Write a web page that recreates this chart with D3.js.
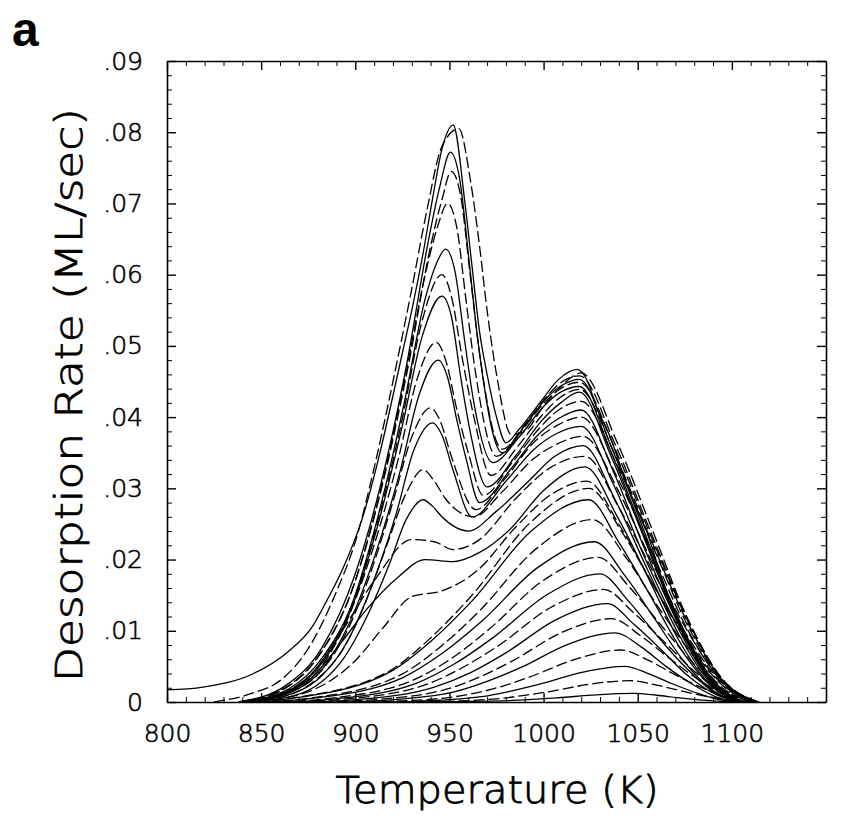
<!DOCTYPE html>
<html>
<head>
<meta charset="utf-8">
<script src="https://cdn.jsdelivr.net/npm/d3@7"></script>
<style>
  html, body { margin: 0; padding: 0; background: #fff; }
  svg { display: block; }
  .axis text { font-family: "DejaVu Sans", sans-serif; font-weight: 200; font-size: 25px; fill: #000; stroke: #000; stroke-width: 0.6px; }
  .axis path, .axis line { stroke: #000; }
  .title { font-family: "DejaVu Sans", sans-serif; font-weight: 200; fill: #000; stroke: #000; stroke-width: 0.8px; }
</style>
</head>
<body>
<script>
// ---------- data ----------
const xTickValues = [800, 850, 900, 950, 1000, 1050, 1100];
const xTickLabels = ["800", "850", "900", "950", "1000", "1050", "1100"];
const yTickValues = [0, 0.01, 0.02, 0.03, 0.04, 0.05, 0.06, 0.07, 0.08, 0.09];
const yTickLabels = ["0", ".01", ".02", ".03", ".04", ".05", ".06", ".07", ".08", ".09"];
const xLabel = "Temperature (K)";
const yLabel = "Desorption Rate (ML/sec)";
const panelLabel = "a";

// solid curves: [temperature K, rate ML/s]
const solidCurves = [
  [[925,0],[948,.00004],[980,.00018],[994,.00036],[1008,.0006],[1028,.001],[1048,.0012],[1060,.00095],[1071,.00062],[1083,.00031],[1094,.00008],[1106,0]],
  [[905,0],[931,.0001],[967,.00075],[982,.0015],[998,.0025],[1021,.0042],[1043,.005],[1056,.00395],[1068,.0026],[1081,.0013],[1093,.00035],[1106,0]],
  [[890,0],[913,.0002],[953,.00146],[970,.0029],[988,.00485],[1013,.0081],[1038,.0097],[1052,.0077],[1065,.005],[1079,.0025],[1092,.00068],[1106,0]],
  [[875,0],[899,.0003],[942,.0021],[961,.0041],[980,.0069],[1007,.0116],[1034,.0138],[1048,.0109],[1063,.0072],[1077,.0036],[1092,.001],[1106,0]],
  [[865,0],[888,.0004],[933,.0027],[953,.0054],[973,.009],[1002,.0151],[1030,.018],[1045,.0142],[1060,.0094],[1076,.0047],[1091,.0013],[1106,0]],
  [[855,0],[877,.0005],[925,.0034],[946,.0068],[967,.0113],[997,.0189],[1027,.0225],[1043,.0178],[1059,.0117],[1074,.0059],[1090,.0016],[1106,0]],
  [[850,0],[869,.0006],[919,.0043],[940,.0085],[962,.0142],[993,.0239],[1024,.0284],[1040,.0224],[1057,.0148],[1073,.0074],[1090,.002],[1106,0]],
  [[845,0],[875,.003],[893,.0085],[906,.013],[923,.0176],[937,.02],[952,.0197],[966,.021],[982,.0242],[1000,.0297],[1022,.033],[1039,.0261],[1056,.0172],[1072,.0086],[1089,.0023],[1106,0]],
  [[843,0],[867,.00085],[882,.0028],[894,.0062],[906,.0119],[918,.0193],[927,.0256],[936,.0284],[941,.0275],[946,.026],[960,.024],[975,.0268],[992,.031],[1006,.0345],[1021,.036],[1038,.0284],[1055,.0187],[1072,.0094],[1089,.0025],[1106,0]],
  [[842,0],[867,.0012],[883,.0039],[896,.0086],[909,.0165],[922,.0267],[931,.0353],[941,.0392],[946,.0375],[952,.0325],[962,.026],[980,.031],[995,.0355],[1007,.0377],[1020,.0387],[1037,.0306],[1054,.0201],[1072,.0101],[1089,.0027],[1106,0]],
  [[841,0],[866,.0014],[883,.0048],[896,.0106],[910,.0202],[924,.0326],[934,.0432],[944,.048],[949,.0456],[954,.0395],[959,.034],[966,.028],[982,.0325],[997,.0375],[1008,.0398],[1020,.041],[1037,.0324],[1054,.0213],[1072,.0107],[1089,.0029],[1106,0]],
  [[840,0],[866,.0017],[883,.0057],[897,.0125],[911,.0239],[925,.0388],[935.5,.0513],[946,.057],[951,.0542],[956,.0456],[961,.038],[970,.0302],[985,.0345],[999,.0395],[1009,.042],[1019,.0435],[1036,.0344],[1054,.0226],[1071,.0113],[1089,.003],[1106,0]],
  [[839,0],[865,.0019],[883,.0064],[898,.0136],[912,.026],[926,.042],[937,.0565],[943,.0615],[948,.0636],[953,.0604],[958,.0509],[963,.042],[973,.0336],[987,.0372],[1000,.0415],[1009,.0435],[1019,.0443],[1036,.035],[1054,.023],[1071,.0115],[1089,.0031],[1106,0]],
  [[838,0],[863,.0023],[882,.0075],[900,.018],[913,.030],[927,.047],[939,.065],[945,.0725],[950.5,.0772],[955.5,.0733],[960.5,.0618],[965,.051],[978,.035],[990,.0388],[1002,.0428],[1010,.0445],[1019,.0453],[1036,.0358],[1054,.0236],[1071,.0118],[1089,.0032],[1106,0]],
  [[800,.0017],[819,.0021],[846,.004],[864,.007],[877,.0105],[885,.0143],[893,.0185],[904,.026],[914,.036],[920,.043],[925,.049],[930,.055],[936,.063],[941,.0706],[946,.0776],[952,.081],[958,.0706],[962,.0612],[966,.052],[970,.046],[975,.040],[980,.0364],[987,.0383],[998,.042],[1008,.0453],[1018,.0467],[1023,.0452],[1028,.0415],[1036,.0368],[1042,.0322],[1049,.0274],[1055,.0238],[1063,.0172],[1071,.0121],[1079,.0077],[1088,.0038],[1097,.0013],[1106,0]]
];

// dashed curves: [temperature K, rate ML/s]
const dashedCurves = [
  [[915,0],[941,.00006],[975,.00045],[989,.0009],[1004,.0015],[1025,.00252],[1046,.003],[1060,.00237],[1073,.00156],[1087,.00078],[1100,.00021],[1114,0]],
  [[898,0],[924,.00015],[961,.0011],[978,.0022],[994,.00365],[1018,.0061],[1041,.0073],[1056,.0058],[1070,.0038],[1085,.0019],[1099,.0005],[1114,0]],
  [[882,0],[906,.00025],[948,.00176],[966,.0035],[984,.00585],[1010,.0098],[1036,.0117],[1052,.0092],[1067,.0061],[1083,.003],[1098,.0008],[1114,0]],
  [[870,0],[892,.00035],[937,.0024],[956,.0047],[976,.0079],[1004,.0133],[1032,.0158],[1048,.0125],[1065,.0082],[1081,.0041],[1098,.0011],[1114,0]],
  [[860,0],[884,.00045],[930,.003],[951,.0061],[971,.0102],[1000,.0171],[1029,.0203],[1046,.016],[1063,.0106],[1080,.0053],[1097,.0014],[1114,0]],
  [[853,0],[876,.00055],[924,.0038],[945,.0077],[966,.0128],[996,.0215],[1026,.0256],[1044,.0202],[1061,.0133],[1079,.0067],[1096,.0018],[1114,0]],
  [[848,0],[869,.00065],[919,.0045],[940,.009],[962,.015],[993,.0252],[1024,.030],[1042,.0237],[1060,.0156],[1078,.0078],[1096,.0021],[1114,0]],
  [[848,0],[880,.002],[900,.0058],[915,.0105],[930,.0148],[946,.0156],[965,.0185],[985,.0245],[1005,.0293],[1023,.031],[1041,.0245],[1059,.0161],[1078,.0081],[1096,.0022],[1114,0]],
  [[845,0],[875,.0035],[893,.01],[910,.017],[930,.0228],[942,.0225],[952,.0214],[966,.0228],[985,.0285],[1003,.0328],[1022,.0345],[1040,.0273],[1059,.0179],[1077,.009],[1096,.0024],[1114,0]],
  [[843,0],[865,.001],[880,.0033],[893,.0072],[905,.0137],[917,.0222],[927,.0293],[936,.0326],[942,.031],[948,.0285],[963,.026],[978,.0295],[994,.034],[1007,.0362],[1021,.0373],[1040,.0295],[1058,.0194],[1077,.0097],[1096,.0026],[1114,0]],
  [[842,0],[864,.0012],[881,.0041],[894,.0091],[907,.0173],[920,.0281],[930,.0372],[940,.0413],[945,.0395],[951,.0345],[964,.027],[980,.0315],[995,.0365],[1007,.0388],[1020,.040],[1039,.0316],[1058,.0208],[1076,.0104],[1095,.0028],[1114,0]],
  [[841,0],[865,.0015],[882,.005],[895,.0111],[909,.0212],[923,.0343],[933,.0455],[943,.0505],[948,.048],[954,.041],[960,.035],[968,.029],[983,.0335],[998,.0385],[1008,.041],[1020,.0422],[1039,.0333],[1058,.0219],[1076,.011],[1095,.003],[1114,0]],
  [[840,0],[866,.0018],[883,.006],[897,.0128],[911,.0245],[925,.0398],[935,.053],[946,.060],[951,.057],[957,.048],[963,.040],[972,.0318],[986,.0358],[1000,.0405],[1009,.0428],[1019,.0439],[1038,.0347],[1057,.0228],[1076,.0114],[1095,.0031],[1114,0]],
  [[839,0],[864,.0021],[882,.007],[897,.0148],[912,.0282],[926,.045],[938,.061],[944,.067],[949,.070],[954,.0665],[959,.056],[964,.046],[975,.0345],[988,.038],[1001,.0422],[1009,.044],[1019,.0449],[1038,.0355],[1057,.0233],[1076,.0117],[1095,.0031],[1114,0]],
  [[838,0],[864,.0022],[883,.0075],[898,.0155],[913,.029],[928,.047],[940,.064],[946,.0705],[951,.0745],[956,.071],[961,.060],[966,.049],[978,.0355],[991,.0393],[1003,.0433],[1010,.045],[1019,.0458],[1038,.0362],[1057,.0238],[1076,.0119],[1095,.0032],[1114,0]],
  [[825,0],[845,.0012],[860,.003],[875,.0075],[890,.0155],[900,.0225],[911,.034],[920,.045],[930,.058],[938,.069],[946,.078],[955,.0805],[961,.0735],[966,.064],[970,.055],[975,.046],[983,.0375],[990,.038],[1000,.0415],[1010,.0445],[1020,.0462],[1039,.0365],[1058,.024],[1076,.012],[1095,.0032],[1114,0]]
];

// ---------- chart ----------
const W = 855, H = 827;
const x = d3.scaleLinear().domain([800, 1150]).range([167, 826]);
const y = d3.scaleLinear().domain([0, 0.09]).range([702, 61]);

const svg = d3.select("body").append("svg").attr("width", W).attr("height", H);

const line = d3.line().x(d => x(d[0])).y(d => y(d[1])).curve(d3.curveMonotoneX);

const plot = svg.append("g");
plot.selectAll("path.solid").data(solidCurves).join("path")
  .attr("class", "solid")
  .attr("d", line)
  .attr("fill", "none").attr("stroke", "#000").attr("stroke-width", 1.3);
plot.selectAll("path.dashed").data(dashedCurves).join("path")
  .attr("class", "dashed")
  .attr("d", line)
  .attr("fill", "none").attr("stroke", "#000").attr("stroke-width", 1.3)
  .attr("stroke-dasharray", "11,4");

const xMinor = d3.range(800, 1151, 10).filter(v => v % 50 !== 0);
const yMinor = d3.range(0, 45.5, 1).filter(v => v % 5 !== 0).map(v => v * 0.002);

function styleAxis(g) {
  g.select(".domain").attr("stroke-width", 1.6);
  g.selectAll(".tick line").attr("stroke-width", 1.4);
}

// bottom
svg.append("g").attr("class", "axis").attr("transform", "translate(0,702)")
  .call(d3.axisBottom(x).tickValues(xTickValues).tickFormat((d, i) => xTickLabels[i])
    .tickSizeInner(-9).tickSizeOuter(0).tickPadding(22))
  .call(styleAxis);
svg.append("g").attr("class", "axis").attr("transform", "translate(0,702)")
  .call(d3.axisBottom(x).tickValues(xMinor).tickFormat("").tickSizeInner(-5).tickSizeOuter(0))
  .call(g => g.select(".domain").remove());
// top
svg.append("g").attr("class", "axis").attr("transform", "translate(0,61)")
  .call(d3.axisTop(x).tickValues(xTickValues).tickFormat("").tickSizeInner(-9).tickSizeOuter(0))
  .call(styleAxis);
svg.append("g").attr("class", "axis").attr("transform", "translate(0,61)")
  .call(d3.axisTop(x).tickValues(xMinor).tickFormat("").tickSizeInner(-5).tickSizeOuter(0))
  .call(g => g.select(".domain").remove());
// left
svg.append("g").attr("class", "axis").attr("transform", "translate(167,0)")
  .call(d3.axisLeft(y).tickValues(yTickValues).tickFormat((d, i) => yTickLabels[i])
    .tickSizeInner(-9).tickSizeOuter(0).tickPadding(24))
  .call(styleAxis);
svg.append("g").attr("class", "axis").attr("transform", "translate(167,0)")
  .call(d3.axisLeft(y).tickValues(yMinor).tickFormat("").tickSizeInner(-5).tickSizeOuter(0))
  .call(g => g.select(".domain").remove());
// right
svg.append("g").attr("class", "axis").attr("transform", "translate(826,0)")
  .call(d3.axisRight(y).tickValues(yTickValues).tickFormat("").tickSizeInner(-9).tickSizeOuter(0))
  .call(styleAxis);
svg.append("g").attr("class", "axis").attr("transform", "translate(826,0)")
  .call(d3.axisRight(y).tickValues(yMinor).tickFormat("").tickSizeInner(-5).tickSizeOuter(0))
  .call(g => g.select(".domain").remove());

// axis titles
svg.append("text").attr("class", "title")
  .attr("x", 497).attr("y", 803)
  .attr("text-anchor", "middle")
  .attr("font-size", 37)
  .attr("textLength", 323).attr("lengthAdjust", "spacingAndGlyphs")
  .text(xLabel);

svg.append("text").attr("class", "title")
  .attr("transform", "translate(82,395) rotate(-90)")
  .attr("text-anchor", "middle")
  .attr("font-size", 37)
  .attr("textLength", 574).attr("lengthAdjust", "spacingAndGlyphs")
  .text(yLabel);

svg.append("text")
  .attr("x", 12).attr("y", 46)
  .attr("font-family", "Liberation Sans, Arial, sans-serif").attr("font-weight", "bold")
  .attr("font-size", 48)
  .text(panelLabel);
</script>
</body>
</html>
